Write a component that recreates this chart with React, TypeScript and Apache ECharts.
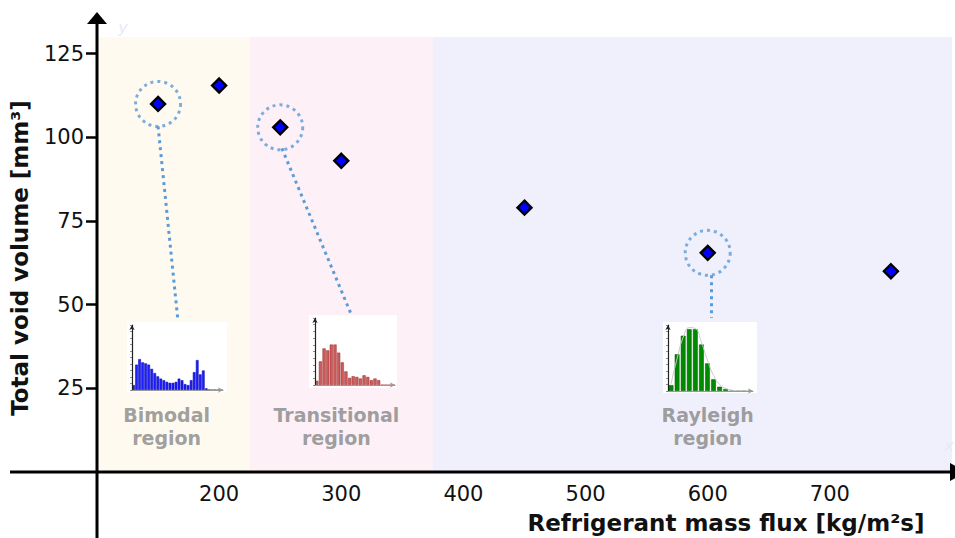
import React, { useEffect, useRef } from "react";
import * as echarts from "echarts";

// ---- main data ----
const massFlux = [150, 200, 250, 300, 450, 600, 750];
const voidVolume = [110, 115.5, 103, 93, 79, 65.5, 60];
const highlightedFlux = [150, 250, 600];
const highlightedVolume = [110, 103, 65.5];
const xTicks = [200, 300, 400, 500, 600, 700];
const yTicks = [25, 50, 75, 100, 125];
const regionNames = ["Bimodal\nregion", "Transitional\nregion", "Rayleigh\nregion"];
const regionBounds = [[100, 225], [225, 375], [375, 800]];
const regionLabelAt = [[157, 13.7], [296, 13.7], [600, 13.7]];
// connector lines from highlighted circles to insets (data coords)
const connectors = [
  [[150, 103.3], [166.3, 45.1]],
  [[251.4, 96.7], [308.7, 46.6]],
  [[602.5, 58.8], [602.5, 46]],
];

// ---- inset histograms (relative heights) ----
const bimodalHist = [15, 78, 95, 85, 82, 78, 65, 52, 42, 35, 30, 25, 22, 22, 25, 35, 30, 18, 15, 30, 55, 92, 48, 60, 5, 1, 0, 0, 0, 0];
const transitionalHist = [13, 73, 113, 107, 125, 125, 100, 70, 42, 22, 27, 25, 20, 30, 25, 15, 20, 15, 0, 0, 0, 0];
const rayleighHist = [18, 113, 170, 190, 190, 143, 85, 36, 13, 6, 0, 0, 0, 0];
const rayleighFit = [22, 100, 165, 195, 192, 150, 95, 48, 20, 8, 3, 1, 0, 0];

const FONT = "DejaVu Sans";
const DOT = "#5b9bd8";

function insetAxes(gridIndex: number, n: number, max: number) {
  const cats = Array.from({ length: n }, (_, i) => String(i));
  return {
    x: {
      type: "category", gridIndex, data: cats, z: 10,
      axisLine: { lineStyle: { color: "#999", width: 1 }, symbol: ["none", "arrow"], symbolSize: [4, 5] },
      axisTick: { show: false }, axisLabel: { show: false }, splitLine: { show: false },
    },
    y: {
      type: "value", gridIndex, min: 0, max, interval: max / 10, z: 10,
      axisLine: { show: true, lineStyle: { color: "#222", width: 1.2 }, symbol: ["none", "arrow"], symbolSize: [4, 5] },
      axisTick: { show: true, length: 2, lineStyle: { color: "#444", width: 0.6 } },
      axisLabel: { show: false }, splitLine: { show: false },
    },
  };
}

export default function App() {
  const ref = useRef<HTMLDivElement>(null);
  useEffect(() => {
    const chart = echarts.init(ref.current!, null, { renderer: "svg" });
    const a1 = insetAxes(1, bimodalHist.length, 200);
    const a2 = insetAxes(2, transitionalHist.length, 207);
    const a3 = insetAxes(3, rayleighHist.length, 203);
    const regionColors = ["#fefaf0", "#fdf0f7", "#f0f0fc"];
    const option: any = {
      animation: false,
      backgroundColor: "#ffffff",
      textStyle: { fontFamily: FONT },
      grid: [
        { left: 97, right: 3, top: 37, bottom: 66 },
        { left: 132, top: 325, width: 91, height: 65 },
        { left: 315, top: 318, width: 80, height: 67 },
        { left: 668, top: 325, width: 85, height: 66 },
      ],
      xAxis: [
        {
          type: "value", gridIndex: 0, min: 100, max: 800, interval: 100,
          axisLine: { show: false }, splitLine: { show: false },
          axisTick: { show: true, inside: true, length: 12, lineStyle: { color: "#000", width: 2.5 }, customValues: xTicks },
          axisLabel: { customValues: xTicks, fontSize: 21, color: "#111", margin: 11, fontFamily: FONT },
        },
        a1.x, a2.x, a3.x,
      ],
      yAxis: [
        {
          type: "value", gridIndex: 0, min: 0, max: 130,
          axisLine: { show: false }, splitLine: { show: false },
          axisTick: { show: true, length: 11, lineStyle: { color: "#000", width: 2.5 }, customValues: yTicks },
          axisLabel: { customValues: yTicks, fontSize: 21, color: "#111", margin: 13, fontFamily: FONT },
        },
        {
          type: "value", gridIndex: 0, min: 0, max: 130, position: "left",
          axisLine: { show: false }, splitLine: { show: false },
          axisTick: { show: true, inside: true, length: 11, lineStyle: { color: "#000", width: 2.5 }, customValues: yTicks },
          axisLabel: { show: false },
        },
        a1.y, a2.y, a3.y,
      ],
      series: [
        {
          type: "scatter", xAxisIndex: 0, yAxisIndex: 0, z: 3,
          data: highlightedFlux.map((x, i) => [x, highlightedVolume[i]]),
          symbol: "circle", symbolSize: 45, silent: true,
          itemStyle: { color: "rgba(0,0,0,0)", borderColor: DOT, borderWidth: 3, borderType: [3, 4] },
          markArea: {
            silent: true,
            data: regionBounds.map((b, i) => [
              { xAxis: b[0], itemStyle: { color: regionColors[i] } },
              { xAxis: b[1] },
            ]),
          },
          markLine: {
            silent: true, symbol: ["none", "none"], label: { show: false },
            lineStyle: { color: DOT, width: 3, type: [3, 4] },
            data: connectors.map((c) => [{ coord: c[0] }, { coord: c[1] }]),
          },
        },
        {
          type: "scatter", xAxisIndex: 0, yAxisIndex: 0, z: 5,
          data: massFlux.map((x, i) => [x, voidVolume[i]]),
          symbol: "diamond", symbolSize: 14,
          itemStyle: { color: "#0000ff", borderColor: "#000", borderWidth: 2.4, opacity: 1 },
          emphasis: { disabled: true },
        },
        {
          type: "scatter", xAxisIndex: 0, yAxisIndex: 0, z: 5, symbolSize: 0, silent: true,
          data: regionNames.map((n, i) => ({ name: n, value: regionLabelAt[i] })),
          label: {
            show: true, position: "inside", formatter: "{b}", fontFamily: FONT,
            fontSize: 19, fontWeight: "bold", color: "#878787", lineHeight: 23, align: "center",
          },
        },
        {
          type: "bar", xAxisIndex: 1, yAxisIndex: 2, z: 6, data: bimodalHist, barCategoryGap: "12%",
          itemStyle: { color: "#1f1fff", borderColor: "#0000b0", borderWidth: 0.5 },
        },
        {
          type: "bar", xAxisIndex: 2, yAxisIndex: 3, z: 6, data: transitionalHist, barCategoryGap: "12%",
          itemStyle: { color: "#cd5c5c", borderColor: "#9b2f2f", borderWidth: 0.5 },
        },
        {
          type: "bar", xAxisIndex: 3, yAxisIndex: 4, z: 6, data: rayleighHist, barCategoryGap: "22%",
          itemStyle: { color: "#008a00", borderColor: "#005500", borderWidth: 0.5 },
        },
        {
          type: "line", xAxisIndex: 3, yAxisIndex: 4, z: 7, data: rayleighFit, smooth: true,
          symbol: "none", lineStyle: { color: "#c8c8c8", width: 1 },
        },
      ],
    };
    chart.setOption(option);

    const o = chart.convertToPixel({ xAxisIndex: 0, yAxisIndex: 0 }, [100, 0]) as number[];
    const ox = o[0];
    const oy = o[1];
    const insetBoxes = [
      [127, 322, 100, 70],
      [309, 315, 88, 73],
      [663, 322, 94, 71],
    ];
    chart.setOption({
      graphic: [
        ...insetBoxes.map((b) => ({
          type: "rect", z: 4, silent: true,
          shape: { x: b[0], y: b[1], width: b[2], height: b[3] },
          style: { fill: "#ffffff" },
        })),
        { type: "line", z: 20, shape: { x1: 10, y1: oy, x2: 952, y2: oy }, style: { stroke: "#000", lineWidth: 3 } },
        { type: "polygon", z: 20, shape: { points: [[950, oy - 9], [950, oy + 9], [966, oy]] }, style: { fill: "#000" } },
        { type: "line", z: 20, shape: { x1: ox, y1: 20, x2: ox, y2: 538 }, style: { stroke: "#000", lineWidth: 3 } },
        { type: "polygon", z: 20, shape: { points: [[ox - 10, 24], [ox + 10, 24], [ox, 12]] }, style: { fill: "#000" } },
        { type: "text", z: 20, x: 123, y: 27, style: { text: "y", fill: "#e4ebf6", fontSize: 16, fontStyle: "italic", fontFamily: FONT, align: "center", verticalAlign: "middle" } },
        { type: "text", z: 20, x: 949, y: 445, style: { text: "x", fill: "#e4ebf6", fontSize: 16, fontStyle: "italic", fontFamily: FONT, align: "center", verticalAlign: "middle" } },
        {
          type: "text", z: 20, x: 726, y: 523,
          style: { text: "Refrigerant mass flux [kg/m²s]", fill: "#111", fontSize: 23, fontWeight: "bold", fontFamily: FONT, align: "center", verticalAlign: "middle" },
        },
        {
          type: "text", z: 20, x: 20, y: 258, rotation: Math.PI / 2,
          style: { text: "Total void volume [mm³]", fill: "#111", fontSize: 23, fontWeight: "bold", fontFamily: FONT, align: "center", verticalAlign: "middle" },
        },
      ],
    });
    return () => chart.dispose();
  }, []);
  return <div ref={ref} style={{ width: 955, height: 538, position: "absolute", left: 0, top: 0 }} />;
}
